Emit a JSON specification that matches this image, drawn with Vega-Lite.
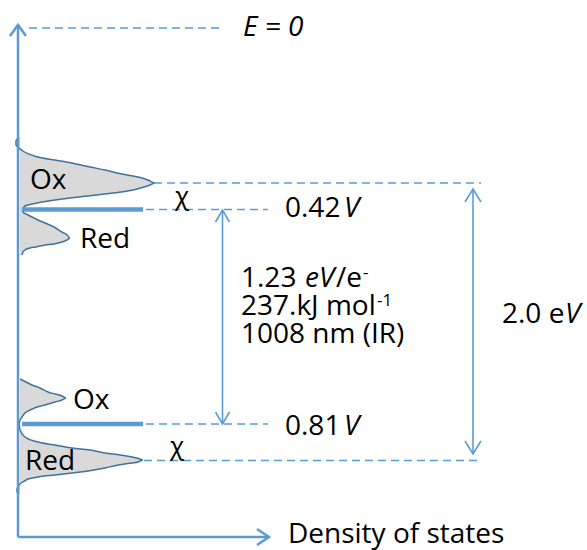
{
  "$schema": "https://vega.github.io/schema/vega-lite/v6.json",
  "width": 587,
  "height": 550,
  "autosize": "none",
  "padding": 0,
  "background": "white",
  "config": {"view": {"stroke": null}, "text": {"font": "Open Sans", "color": "#000000"}},
  "datasets": {
    "dos": [
      {"g": "u", "x": 19, "y": 137}, {"g": "u", "x": 16, "y": 141}, {"g": "u", "x": 16, "y": 145}, {"g": "u", "x": 19, "y": 148},
      {"g": "u", "x": 23, "y": 151}, {"g": "u", "x": 38, "y": 157}, {"g": "u", "x": 55, "y": 160}, {"g": "u", "x": 72, "y": 163},
      {"g": "u", "x": 90, "y": 167}, {"g": "u", "x": 105, "y": 170}, {"g": "u", "x": 122, "y": 174}, {"g": "u", "x": 138, "y": 177},
      {"g": "u", "x": 148, "y": 180}, {"g": "u", "x": 155, "y": 183}, {"g": "u", "x": 150, "y": 185}, {"g": "u", "x": 144, "y": 187},
      {"g": "u", "x": 133, "y": 190}, {"g": "u", "x": 121, "y": 192}, {"g": "u", "x": 105, "y": 194}, {"g": "u", "x": 88, "y": 196},
      {"g": "u", "x": 70, "y": 198}, {"g": "u", "x": 55, "y": 200}, {"g": "u", "x": 42, "y": 202}, {"g": "u", "x": 32, "y": 204},
      {"g": "u", "x": 25, "y": 206}, {"g": "u", "x": 22, "y": 209}, {"g": "u", "x": 23, "y": 212}, {"g": "u", "x": 28, "y": 215},
      {"g": "u", "x": 36, "y": 219}, {"g": "u", "x": 45, "y": 223}, {"g": "u", "x": 54, "y": 227}, {"g": "u", "x": 62, "y": 232},
      {"g": "u", "x": 67, "y": 235}, {"g": "u", "x": 70, "y": 238}, {"g": "u", "x": 67, "y": 240}, {"g": "u", "x": 62, "y": 242},
      {"g": "u", "x": 54, "y": 244}, {"g": "u", "x": 45, "y": 245}, {"g": "u", "x": 36, "y": 247}, {"g": "u", "x": 30, "y": 248},
      {"g": "u", "x": 25, "y": 250}, {"g": "u", "x": 23, "y": 252}, {"g": "u", "x": 22, "y": 255},
      {"g": "l", "x": 20, "y": 379}, {"g": "l", "x": 26, "y": 382}, {"g": "l", "x": 32, "y": 385}, {"g": "l", "x": 40, "y": 388},
      {"g": "l", "x": 48, "y": 392}, {"g": "l", "x": 55, "y": 394}, {"g": "l", "x": 62, "y": 396}, {"g": "l", "x": 66, "y": 398},
      {"g": "l", "x": 62, "y": 400}, {"g": "l", "x": 55, "y": 402}, {"g": "l", "x": 45, "y": 405}, {"g": "l", "x": 37, "y": 407},
      {"g": "l", "x": 30, "y": 410}, {"g": "l", "x": 25, "y": 413}, {"g": "l", "x": 22, "y": 417}, {"g": "l", "x": 20, "y": 420},
      {"g": "l", "x": 19, "y": 424}, {"g": "l", "x": 20, "y": 430}, {"g": "l", "x": 25, "y": 437}, {"g": "l", "x": 38, "y": 442},
      {"g": "l", "x": 55, "y": 445}, {"g": "l", "x": 72, "y": 448}, {"g": "l", "x": 90, "y": 450}, {"g": "l", "x": 105, "y": 453},
      {"g": "l", "x": 120, "y": 455}, {"g": "l", "x": 132, "y": 457}, {"g": "l", "x": 140, "y": 459}, {"g": "l", "x": 143, "y": 460},
      {"g": "l", "x": 138, "y": 462}, {"g": "l", "x": 132, "y": 463}, {"g": "l", "x": 118, "y": 465}, {"g": "l", "x": 105, "y": 468},
      {"g": "l", "x": 88, "y": 471}, {"g": "l", "x": 72, "y": 473}, {"g": "l", "x": 55, "y": 475}, {"g": "l", "x": 38, "y": 477},
      {"g": "l", "x": 28, "y": 479}, {"g": "l", "x": 23, "y": 482}, {"g": "l", "x": 19, "y": 485}, {"g": "l", "x": 17, "y": 489},
      {"g": "l", "x": 17, "y": 492}, {"g": "l", "x": 19, "y": 494}
    ],
    "axisPaths": [
      {"g": "v", "o": 1, "x": 18, "y": 537}, {"g": "v", "o": 2, "x": 18, "y": 25},
      {"g": "h", "o": 1, "x": 18, "y": 537}, {"g": "h", "o": 2, "x": 269, "y": 537},
      {"g": "vt", "o": 1, "x": 10, "y": 36}, {"g": "vt", "o": 2, "x": 18, "y": 25}, {"g": "vt", "o": 3, "x": 26, "y": 36},
      {"g": "hr", "o": 1, "x": 257, "y": 529}, {"g": "hr", "o": 2, "x": 269, "y": 537}, {"g": "hr", "o": 3, "x": 257, "y": 545}
    ],
    "arrowPaths": [
      {"g": "a1", "o": 1, "x": 222.5, "y": 210}, {"g": "a1", "o": 2, "x": 222.5, "y": 424},
      {"g": "a1t", "o": 1, "x": 215.5, "y": 222}, {"g": "a1t", "o": 2, "x": 222.5, "y": 210}, {"g": "a1t", "o": 3, "x": 229.5, "y": 222},
      {"g": "a1b", "o": 1, "x": 215.5, "y": 412}, {"g": "a1b", "o": 2, "x": 222.5, "y": 424}, {"g": "a1b", "o": 3, "x": 229.5, "y": 412},
      {"g": "a2", "o": 1, "x": 473, "y": 189}, {"g": "a2", "o": 2, "x": 473, "y": 454},
      {"g": "a2t", "o": 1, "x": 465, "y": 202}, {"g": "a2t", "o": 2, "x": 473, "y": 189}, {"g": "a2t", "o": 3, "x": 481, "y": 202},
      {"g": "a2b", "o": 1, "x": 465, "y": 441}, {"g": "a2b", "o": 2, "x": 473, "y": 454}, {"g": "a2b", "o": 3, "x": 481, "y": 441}
    ],
    "dashes": [
      {"x": 29, "x2": 220, "y": 28},
      {"x": 154, "x2": 481, "y": 183},
      {"x": 146, "x2": 268, "y": 209.5},
      {"x": 146, "x2": 268, "y": 424},
      {"x": 144, "x2": 481, "y": 460.5}
    ],
    "levels": [
      {"x": 22, "x2": 143, "y": 209.5},
      {"x": 22, "x2": 143, "y": 424}
    ],
    "txt": [
      {"t": "Ox", "x": 30, "y": 189},
      {"t": "Red", "x": 80, "y": 248},
      {"t": "Ox", "x": 73, "y": 409},
      {"t": "Red", "x": 25, "y": 470},
      {"t": "0.42", "x": 285, "y": 217},
      {"t": "0.81", "x": 285, "y": 435},
      {"t": "1.23", "x": 241, "y": 287},
      {"t": "/e", "x": 336, "y": 287},
      {"t": "237.kJ mol", "x": 241, "y": 315},
      {"t": "1008 nm (IR)", "x": 241, "y": 343},
      {"t": "2.0 e", "x": 502, "y": 323},
      {"t": "Density of states", "x": 288, "y": 543}
    ],
    "txtI": [
      {"t": "E = 0", "x": 243, "y": 36},
      {"t": "V", "x": 344, "y": 217},
      {"t": "V", "x": 344, "y": 435},
      {"t": "eV", "x": 305, "y": 287},
      {"t": "V", "x": 565, "y": 323}
    ],
    "txtS": [
      {"t": "-", "x": 363, "y": 278},
      {"t": "-1", "x": 377, "y": 306}
    ],
    "chi": [
      {"t": "χ", "x": 182, "y": 197},
      {"t": "χ", "x": 177, "y": 447}
    ]
  },
  "layer": [
    {
      "data": {"name": "dos"},
      "mark": {"type": "area", "orient": "horizontal", "color": "#d9d9d9", "interpolate": "monotone"},
      "encoding": {
        "y": {"field": "y", "type": "quantitative", "scale": {"domain": [0, 550], "reverse": true, "nice": false, "zero": false}, "axis": null},
        "x": {"field": "x", "type": "quantitative", "scale": {"domain": [0, 587], "nice": false, "zero": false}, "axis": null},
        "x2": {"datum": 20},
        "detail": {"field": "g"}
      }
    },
    {
      "data": {"name": "dos"},
      "mark": {"type": "line", "color": "#41719c", "strokeWidth": 1.5, "interpolate": "monotone", "orient": "horizontal"},
      "encoding": {
        "y": {"field": "y", "type": "quantitative", "scale": {"domain": [0, 550], "reverse": true, "nice": false, "zero": false}, "axis": null},
        "x": {"field": "x", "type": "quantitative", "scale": {"domain": [0, 587], "nice": false, "zero": false}, "axis": null},
        "order": {"field": "y", "type": "quantitative"},
        "detail": {"field": "g"}
      }
    },
    {
      "data": {"name": "dashes"},
      "mark": {"type": "rule", "color": "#5b9bd5", "strokeWidth": 1.6, "strokeDash": [8, 5]},
      "encoding": {
        "x": {"field": "x", "type": "quantitative", "scale": {"domain": [0, 587], "nice": false, "zero": false}, "axis": null},
        "x2": {"field": "x2"},
        "y": {"field": "y", "type": "quantitative", "scale": {"domain": [0, 550], "reverse": true, "nice": false, "zero": false}, "axis": null}
      }
    },
    {
      "data": {"name": "levels"},
      "mark": {"type": "rule", "color": "#5b9bd5", "strokeWidth": 4.5},
      "encoding": {
        "x": {"field": "x", "type": "quantitative", "scale": {"domain": [0, 587], "nice": false, "zero": false}, "axis": null},
        "x2": {"field": "x2"},
        "y": {"field": "y", "type": "quantitative", "scale": {"domain": [0, 550], "reverse": true, "nice": false, "zero": false}, "axis": null}
      }
    },
    {
      "data": {"name": "axisPaths"},
      "mark": {"type": "line", "color": "#5b9bd5", "strokeWidth": 2.5, "strokeJoin": "miter"},
      "encoding": {
        "x": {"field": "x", "type": "quantitative", "scale": {"domain": [0, 587], "nice": false, "zero": false}, "axis": null},
        "y": {"field": "y", "type": "quantitative", "scale": {"domain": [0, 550], "reverse": true, "nice": false, "zero": false}, "axis": null},
        "detail": {"field": "g"},
        "order": {"field": "o", "type": "quantitative"}
      }
    },
    {
      "data": {"name": "arrowPaths"},
      "mark": {"type": "line", "color": "#5b9bd5", "strokeWidth": 1.6, "strokeJoin": "miter"},
      "encoding": {
        "x": {"field": "x", "type": "quantitative", "scale": {"domain": [0, 587], "nice": false, "zero": false}, "axis": null},
        "y": {"field": "y", "type": "quantitative", "scale": {"domain": [0, 550], "reverse": true, "nice": false, "zero": false}, "axis": null},
        "detail": {"field": "g"},
        "order": {"field": "o", "type": "quantitative"}
      }
    },
    {
      "data": {"name": "txt"},
      "mark": {"type": "text", "fontSize": 28, "align": "left", "baseline": "alphabetic"},
      "encoding": {
        "x": {"field": "x", "type": "quantitative", "scale": {"domain": [0, 587], "nice": false, "zero": false}, "axis": null},
        "y": {"field": "y", "type": "quantitative", "scale": {"domain": [0, 550], "reverse": true, "nice": false, "zero": false}, "axis": null},
        "text": {"field": "t"}
      }
    },
    {
      "data": {"name": "txtI"},
      "mark": {"type": "text", "fontSize": 28, "fontStyle": "italic", "align": "left", "baseline": "alphabetic"},
      "encoding": {
        "x": {"field": "x", "type": "quantitative", "scale": {"domain": [0, 587], "nice": false, "zero": false}, "axis": null},
        "y": {"field": "y", "type": "quantitative", "scale": {"domain": [0, 550], "reverse": true, "nice": false, "zero": false}, "axis": null},
        "text": {"field": "t"}
      }
    },
    {
      "data": {"name": "txtS"},
      "mark": {"type": "text", "fontSize": 17, "align": "left", "baseline": "alphabetic"},
      "encoding": {
        "x": {"field": "x", "type": "quantitative", "scale": {"domain": [0, 587], "nice": false, "zero": false}, "axis": null},
        "y": {"field": "y", "type": "quantitative", "scale": {"domain": [0, 550], "reverse": true, "nice": false, "zero": false}, "axis": null},
        "text": {"field": "t"}
      }
    },
    {
      "data": {"name": "chi"},
      "mark": {"type": "text", "fontSize": 26, "align": "center", "baseline": "middle"},
      "encoding": {
        "x": {"field": "x", "type": "quantitative", "scale": {"domain": [0, 587], "nice": false, "zero": false}, "axis": null},
        "y": {"field": "y", "type": "quantitative", "scale": {"domain": [0, 550], "reverse": true, "nice": false, "zero": false}, "axis": null},
        "text": {"field": "t"}
      }
    }
  ]
}
